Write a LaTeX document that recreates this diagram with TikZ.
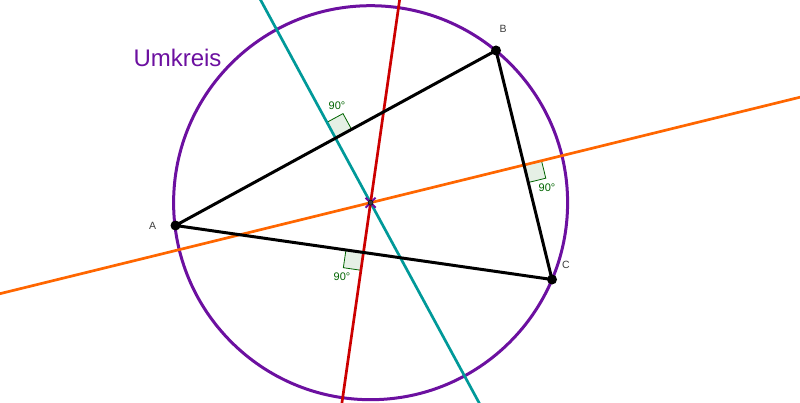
\documentclass[tikz,border=0pt]{standalone}
\usepackage{fontspec}
\setmainfont{Liberation Sans}
\usetikzlibrary{calc}
\definecolor{ukpurple}{RGB}{108,16,160}
\definecolor{ukteal}{RGB}{0,153,153}
\definecolor{ukred}{RGB}{204,0,0}
\definecolor{ukorange}{RGB}{255,102,0}
\definecolor{ukgreen}{RGB}{0,100,0}
\definecolor{ukfill}{RGB}{229,240,229}
\definecolor{ukgrey}{RGB}{60,60,60}
\tikzset{
  bisector/.style={line width=2.7pt},
  side/.style={line width=3pt, black},
  rightmark/.style={draw=ukgreen, fill=ukfill, line width=0.8pt},
  anglelabel/.style={text=ukgreen, font=\fontsize{11}{13}\selectfont, inner sep=0pt},
  ptlabel/.style={text=ukgrey, font=\fontsize{10.5}{12}\selectfont, inner sep=0pt},
  ptdot/.style={circle, fill=black, inner sep=0pt, minimum size=10pt},
}
\begin{document}
\begin{tikzpicture}[x=1pt,y=-1pt]
\useasboundingbox (0,0) rectangle (800,403);
\clip (0,0) rectangle (800,403);
% points
\coordinate (A) at (175.5,225.5);
\coordinate (B) at (496,50.5);
\coordinate (C) at (552,279.5);
\coordinate (O) at (370.6,202.7);
% bisector end points
\coordinate (T1) at (257.9,-5);
\coordinate (T2) at (481.9,408);
\coordinate (R1) at (400.3,-5);
\coordinate (R2) at (341.2,408);
\coordinate (Q1) at (-5,294.9);
\coordinate (Q2) at (805,96.0);
% circumcircle
\draw[ukpurple, line width=3pt] (O) circle[radius=197pt];
% right angle markers
\path[rightmark] (335.75,138) -- (351.6,129.4) -- (343,113.6) -- (327.2,122.2) -- cycle;
\path[rightmark] (524,165) -- (541.5,160.7) -- (545.8,178.2) -- (528.3,182.5) -- cycle;
\path[rightmark] (363.75,252.5) -- (345.95,249.9) -- (343.35,267.7) -- (361.15,270.3) -- cycle;
% perpendicular bisectors
\draw[bisector, ukteal] (T1) -- (T2);
\draw[bisector, ukred] (R1) -- (R2);
\draw[bisector, ukorange] (Q1) -- (Q2);
% triangle
\draw[side, line join=round] (A) -- (B) -- (C) -- cycle;
% points
\node[ptdot] (Adot) at (A) {};
\node[ptdot] (Bdot) at (B) {};
\node[ptdot] (Cdot) at (C) {};
% circumcenter
\draw[ukpurple, line width=2pt] ($(O)+(-5,-5)$) -- ($(O)+(5,5)$) ($(O)+(-5,5)$) -- ($(O)+(5,-5)$);
\node[circle, fill=ukgrey, draw=black, line width=0.4pt, inner sep=0pt, minimum size=5pt] (Odot) at (O) {};
% labels
\node[ptlabel] (Alab) at (152.5,226) {A};
\node[ptlabel] (Blab) at (503,29) {B};
\node[ptlabel] (Clab) at (566,265) {C};
\node[anglelabel] (a1) at (337,106) {90°};
\node[anglelabel] (a2) at (547,188) {90°};
\node[anglelabel] (a3) at (342,277) {90°};
\node[text=ukpurple, font=\fontsize{24}{28}\selectfont, inner sep=0pt, anchor=base] (Uk) at (177.5,67) {Umkreis};
\end{tikzpicture}
\end{document}
